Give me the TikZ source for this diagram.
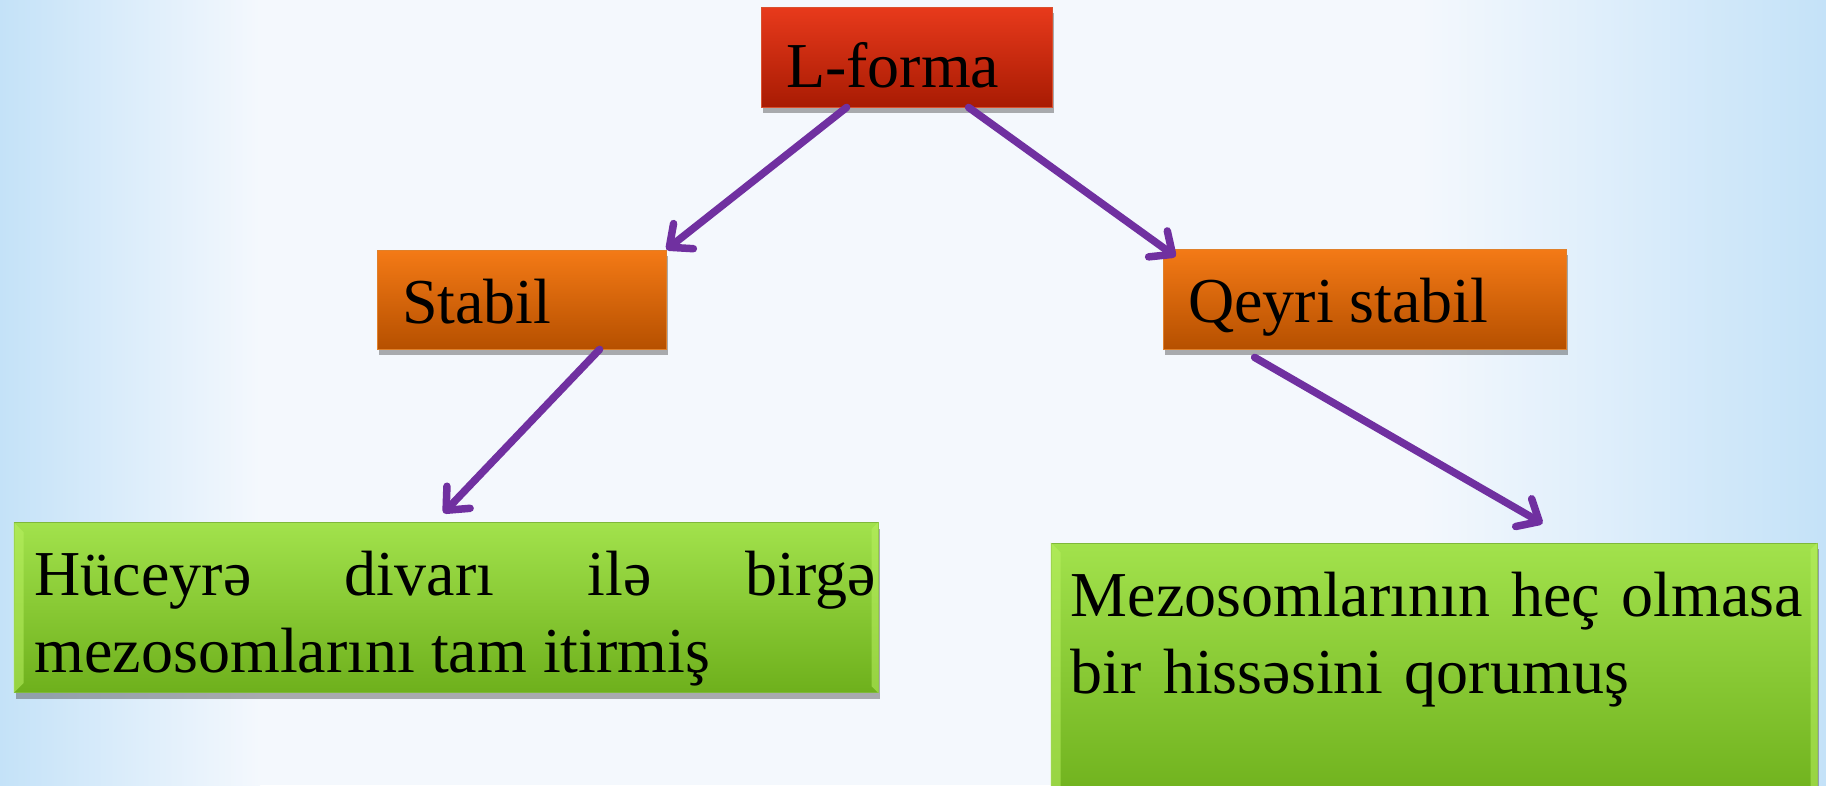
\documentclass[tikz,border=0pt]{standalone}
\usepackage{fontspec}
\setmainfont{Liberation Serif}
\usetikzlibrary{arrows.meta,shadows,calc}
\definecolor{bgblue}{HTML}{C4E2F8}
\definecolor{bgmid}{HTML}{F4F8FD}
\definecolor{redtop}{HTML}{E83A1C}
\definecolor{redbot}{HTML}{A81B03}
\definecolor{redline}{HTML}{D9502E}
\definecolor{ortop}{HTML}{F47A16}
\definecolor{orbot}{HTML}{B65000}
\definecolor{orline}{HTML}{E0802A}
\definecolor{grtop}{HTML}{A2E24C}
\definecolor{grbot}{HTML}{6EB01C}
\definecolor{grline}{HTML}{7FB83A}
\definecolor{grlight}{HTML}{B8F060}
\definecolor{arrcol}{HTML}{7030A0}
\tikzset{
  boxbase/.style={rectangle, inner sep=0pt, drop shadow={shadow xshift=2pt, shadow yshift=-6pt, opacity=0.45, fill=black!70}},
  redbox/.style={boxbase, top color=redtop, bottom color=redbot, draw=redline, line width=0.8pt},
  orbox/.style={boxbase, top color=ortop, bottom color=orbot, draw=orline, line width=0.8pt},
  grbox/.style={boxbase, top color=grtop, bottom color=grbot, draw=grline, line width=1pt},
  bevel/.style={fill=grlight, opacity=0.55},
  headtext/.style={font=\fontsize{64}{77}\selectfont, text height=44pt, text depth=0pt, align=left},
  bodytext/.style={font=\fontsize{64}{77}\selectfont, inner sep=0pt, anchor=north west},
  arr/.style={draw=arrcol, line width=7.5pt, line cap=round,
    -{Straight Barb[length=18pt,width=32pt,line width=7.5pt,line cap=round,round]}}
}
\begin{document}
\begin{tikzpicture}[x=1pt,y=-1pt]
\useasboundingbox (0,0) rectangle (1826,785);
\fill[bgmid] (0,0) rectangle (1826,785);
\shade[left color=bgblue, right color=bgmid] (0,0) rectangle (260,785);
\shade[left color=bgmid, right color=bgblue] (1420,0) rectangle (1826,785);

\node[redbox, minimum width=291pt, minimum height=100pt] (L) at (906.5,57) {};
\node[headtext, anchor=base west] (Lt) at ([xshift=22pt,yshift=-81pt]L.north west) {L-forma};

\node[orbox, minimum width=289pt, minimum height=99pt] (S) at (521.5,299.5) {};
\node[headtext, anchor=base west] (St) at ([xshift=22pt,yshift=-74pt]S.north west) {Stabil};

\node[orbox, minimum width=403pt, minimum height=100pt] (Q) at (1364.5,299) {};
\node[headtext, anchor=base west] (Qt) at ([xshift=22pt,yshift=-74pt]Q.north west) {Qeyri stabil};

\node[grbox, minimum width=864pt, minimum height=170pt] (G1) at (446,607.5) {};
\fill[bevel] (G1.north west) -- ([xshift=10pt,yshift=-10pt]G1.north west) -- ([xshift=10pt,yshift=10pt]G1.south west) -- (G1.south west) -- cycle;
\fill[bevel] (G1.north east) -- ([xshift=-7pt,yshift=-7pt]G1.north east) -- ([xshift=-7pt,yshift=7pt]G1.south east) -- (G1.south east) -- cycle;
\node[bodytext, text width=841pt, align=justify] (G1t) at ([xshift=21pt,yshift=-29pt]G1.north west)
  {Hüceyrə divarı ilə birgə\linebreak mezosomlarını tam itirmiş};

\node[grbox, minimum width=766pt, minimum height=262pt] (G2) at (1434,674) {};
\fill[bevel] (G2.north west) -- ([xshift=10pt,yshift=-10pt]G2.north west) -- ([xshift=10pt,yshift=10pt]G2.south west) -- (G2.south west) -- cycle;
\fill[bevel] (G2.north east) -- ([xshift=-7pt,yshift=-7pt]G2.north east) -- ([xshift=-7pt,yshift=7pt]G2.south east) -- (G2.south east) -- cycle;
\node[bodytext, text width=745pt, align=left] (G2t) at ([xshift=20pt,yshift=-29pt]G2.north west)
  {Mezosomlarının heç olmasa\\bir hissəsini qorumuş};

\draw[arr] ([xshift=86pt]L.south west) -- (S.north east);
\draw[arr] ([xshift=208pt]L.south west) -- ([xshift=13pt,yshift=-8pt]Q.north west);
\draw[arr] ([xshift=223pt]S.south west) -- ([xshift=430pt,yshift=9pt]G1.north west);
\draw[arr] ([xshift=92pt,yshift=-8pt]Q.south west) -- ([xshift=492pt,yshift=19pt]G2.north west);
\end{tikzpicture}
\end{document}
